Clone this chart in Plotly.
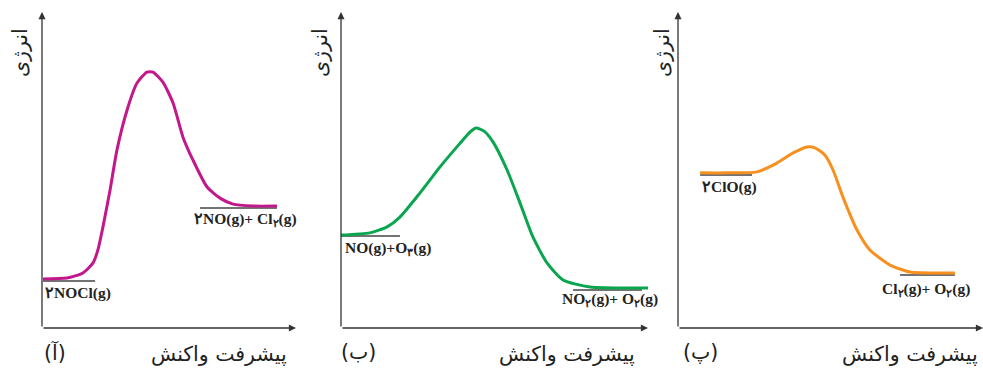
import plotly.graph_objects as go

# ---------------- data (reaction progress 0-100, energy 0-100) ----------------
progress_a = [0.4, 9.8, 16.1, 20.1, 22.0, 24.0, 26.8, 29.5, 33.5, 37.4, 41.3, 43.7, 47.6, 51.6, 55.5, 59.4, 65.0, 70.1, 75.2, 83.1, 92.5]
energy_a = [15.5, 15.8, 17.4, 20.6, 24.7, 32.0, 43.7, 56.3, 69.0, 77.5, 81.0, 81.0, 77.8, 71.2, 60.4, 53.2, 44.6, 41.1, 39.2, 38.6, 38.6]

progress_b = [0.0, 9.4, 15.0, 19.2, 25.7, 32.2, 38.8, 42.0, 44.0, 46.6, 49.5, 54.1, 58.3, 62.5, 67.1, 72.3, 81.1, 100.7]
energy_b = [29.4, 30.1, 32.0, 35.1, 42.7, 50.9, 58.5, 62.0, 63.3, 62.3, 58.9, 50.0, 39.6, 28.8, 20.6, 15.2, 13.0, 12.7]

progress_c = [7.2, 16.0, 25.7, 32.2, 37.5, 42.0, 44.6, 47.9, 50.5, 53.7, 58.3, 62.5, 69.1, 75.6, 90.2]
energy_c = [49.1, 49.1, 49.4, 52.2, 55.4, 57.3, 57.0, 54.7, 50.0, 41.5, 31.0, 24.7, 19.9, 17.7, 17.4]

# level lines: [x_start, x_end], energy
react_a_x, react_a_e = [0.4, 20.9], 14.9
prod_a_x, prod_a_e = [62.2, 92.5], 38.0
react_b_x, react_b_e = [0.0, 19.2], 29.1
prod_b_x, prod_b_e = [75.6, 98.0], 12.0
react_c_x, react_c_e = [7.2, 24.1], 48.4
prod_c_x, prod_c_e = [72.3, 90.2], 16.8

react_labels = ["۲NOCl(g)", "NO(g)+O<sub>۳</sub>(g)", "۲ClO(g)"]
prod_labels = ["۲NO(g)+ Cl<sub>۲</sub>(g)", "NO<sub>۲</sub>(g)+ O<sub>۲</sub>(g)", "Cl<sub>۲</sub>(g)+ O<sub>۲</sub>(g)"]
panel_tags = ["(آ)", "(ب)", "(پ)"]
x_title = "پیشرفت واکنش"
y_title = "انرژی"

colors = ["#c2188b", "#0aa64f", "#f7901e"]

# ---------------- layout geometry ----------------
W, H = 983, 369
def px(x):
    return x / W
def py(y):
    return 1 - y / H

panels = [
    dict(x0=42, x1=296, ax="x", ay="y"),
    dict(x0=341, x1=648, ax="x2", ay="y2"),
    dict(x0=678, x1=985, ax="x3", ay="y3"),
]

fig = go.Figure()
curves = [(progress_a, energy_a), (progress_b, energy_b), (progress_c, energy_c)]
levels = [
    (react_a_x, react_a_e, prod_a_x, prod_a_e),
    (react_b_x, react_b_e, prod_b_x, prod_b_e),
    (react_c_x, react_c_e, prod_c_x, prod_c_e),
]

annotations = []
for i, (p, (cx, cy), lv) in enumerate(zip(panels, curves, levels)):
    xa, ya = p["ax"], p["ay"]
    rx, re_, prx, pe = lv
    fig.add_trace(go.Scatter(x=rx, y=[re_, re_], mode="lines", line=dict(color="#444444", width=1.5),
                             xaxis=xa, yaxis=ya, showlegend=False, hoverinfo="skip", cliponaxis=False))
    fig.add_trace(go.Scatter(x=prx, y=[pe, pe], mode="lines", line=dict(color="#444444", width=1.5),
                             xaxis=xa, yaxis=ya, showlegend=False, hoverinfo="skip", cliponaxis=False))
    fig.add_trace(go.Scatter(x=cx, y=cy, mode="lines", line=dict(color=colors[i], width=3, shape="spline", smoothing=0.6),
                             xaxis=xa, yaxis=ya, showlegend=False, hoverinfo="skip", cliponaxis=False))

fig.update_layout(width=W, height=H, margin=dict(l=0, r=0, t=0, b=0),
                  paper_bgcolor="white", plot_bgcolor="white", showlegend=False)

axis_common = dict(showgrid=False, zeroline=False, showticklabels=False, ticks="", showline=False)
for i, p in enumerate(panels):
    suffix = "" if i == 0 else str(i + 1)
    width_px = p["x1"] - p["x0"]
    d1 = min(p["x1"], W)
    xr = [0, 100 * (d1 - p["x0"]) / width_px]
    fig.layout["xaxis" + suffix] = dict(domain=[px(p["x0"]), px(d1)], range=xr, anchor="y" + suffix, **axis_common)
    fig.layout["yaxis" + suffix] = dict(domain=[py(328), py(12)], range=[0, 100], anchor="x" + suffix, **axis_common)

    xa, ya = p["ax"], p["ay"]
    tip = min(100, xr[1])
    annotations.append(dict(x=tip, y=0, ax=0, ay=0, xref=xa, yref=ya, axref=xa, ayref=ya, text="",
                            showarrow=True, arrowhead=2, arrowsize=1.1, arrowwidth=1.3, arrowcolor="#333333"))
    annotations.append(dict(x=0, y=100, ax=0, ay=0, xref=xa, yref=ya, axref=xa, ayref=ya, text="",
                            showarrow=True, arrowhead=2, arrowsize=1.1, arrowwidth=1.3, arrowcolor="#333333"))

# reactant / product labels
label_font = dict(family="Liberation Serif", size=15.5, color="#222222")
lab_pos = [
    ((0.4, 11.1, "left"), (80.3, 34.2, "center")),
    ((0.65, 25.3, "left"), (87.6, 8.9, "center")),
    ((7.2, 44.6, "left"), (80.8, 12.3, "center")),
]
for i, p in enumerate(panels):
    xa, ya = p["ax"], p["ay"]
    (rx, ry, ran), (qx, qy, qan) = lab_pos[i]
    annotations.append(dict(x=rx, y=ry, xref=xa, yref=ya, text="<b>" + react_labels[i] + "</b>", showarrow=False,
                            xanchor=ran, yanchor="middle", font=label_font))
    annotations.append(dict(x=qx, y=qy, xref=xa, yref=ya, text="<b>" + prod_labels[i] + "</b>", showarrow=False,
                            xanchor=qan, yanchor="middle", font=label_font))

fa_font = dict(family="DejaVu Sans", size=20.5, color="#222222")
tag_x = [55, 358, 700]
xt_right = [289, 637, 980]
yt_x = [20, 320, 662]
for i in range(3):
    annotations.append(dict(x=px(tag_x[i]), y=py(352), xref="paper", yref="paper", text=panel_tags[i],
                            showarrow=False, xanchor="center", yanchor="middle", font=fa_font))
    annotations.append(dict(x=px(xt_right[i]), y=py(354), xref="paper", yref="paper", text=x_title,
                            showarrow=False, xanchor="right", yanchor="middle", font=fa_font))
    annotations.append(dict(x=px(yt_x[i]), y=py(53), xref="paper", yref="paper", text=y_title, textangle=-90,
                            showarrow=False, xanchor="center", yanchor="middle", font=fa_font))

fig.update_layout(annotations=annotations)
fig.write_html("out.html", config={"displayModeBar": False},
               post_script="document.body.style.margin='0';document.body.style.overflow='hidden';")
